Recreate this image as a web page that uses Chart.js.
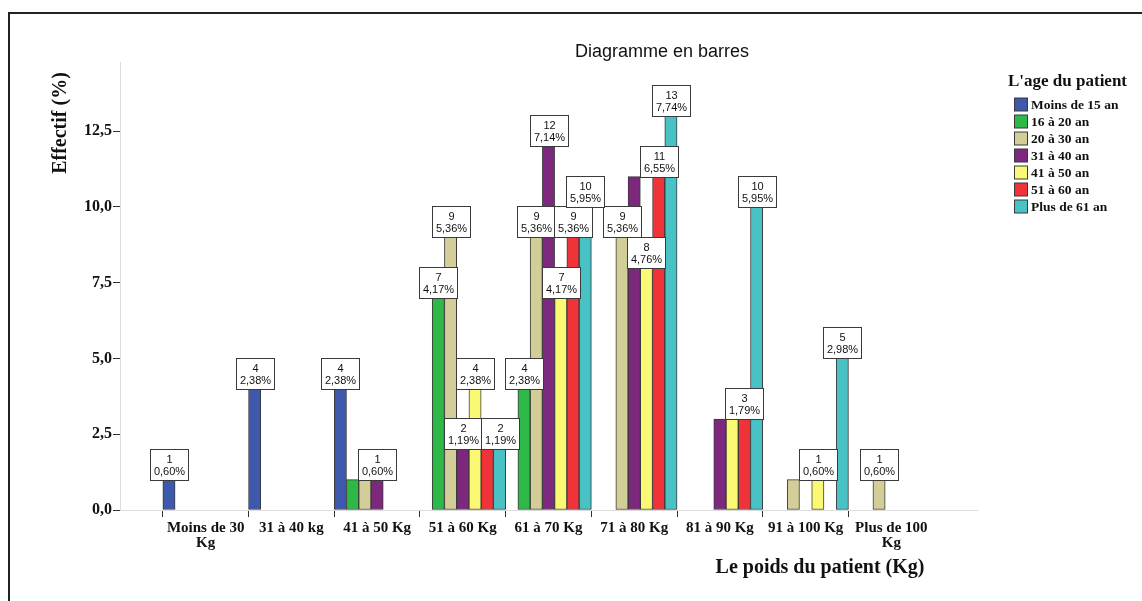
<!DOCTYPE html>
<html>
<head>
<meta charset="utf-8">
<script src="https://cdn.jsdelivr.net/npm/chart.js@4.4.1/dist/chart.umd.min.js"></script>
<style>
  body { margin: 0; background: #fff; }
  canvas { display: block; }
</style>
</head>
<body>
<canvas id="chart" width="1142" height="601"></canvas>
<script>
// categories (weight classes)
const weightLabels = [
  ["Moins de 30", "Kg"], "31 à 40 kg", "41 à 50 Kg", "51 à 60 Kg", "61 à 70 Kg",
  "71 à 80 Kg", "81 à 90 Kg", "91 à 100 Kg", ["Plus de 100", "Kg"]
];

// series (age classes)
const ageLabels = ["Moins de 15 an", "16 à 20 an", "20 à 30 an", "31 à 40 an", "41 à 50 an", "51 à 60 an", "Plus de 61 an"];
const ageColors = ["#3e58ac", "#2eb848", "#d3ce97", "#7c287d", "#fbf873", "#ef3338", "#48c2c5"];

// counts per weight class (null = no bar)
const moins15 = [1, 4, 4, null, null, null, null, null, null];
const de16a20 = [null, null, 1, 7, 4, null, null, null, null];
const de20a30 = [null, null, 1, 9, 9, 9, null, 1, 1];
const de31a40 = [null, null, 1, 2, 12, 11, 3, null, null];
const de41a50 = [null, null, null, 4, 7, 8, 3, 1, null];
const de51a60 = [null, null, null, 2, 9, 11, 3, null, null];
const plus61  = [null, null, null, 2, 10, 13, 10, 5, null];
const seriesValues = [moins15, de16a20, de20a30, de31a40, de41a50, de51a60, plus61];

const total = 168;
const yTicks = [0, 2.5, 5, 7.5, 10, 12.5];

// labels that the original hides because they overlap ("series-category")
const hiddenLabels = ["1-2", "2-2", "5-3", "3-5", "3-6", "4-6", "2-7"];

// pad one empty slot each side so the axis runs half a slot past the end groups
const labels = ["", ...weightLabels, ""];
const datasets = ageLabels.map((name, i) => ({
  label: name,
  data: [null, ...seriesValues[i], null],
  backgroundColor: ageColors[i],
  borderColor: "#3a3a3a",
  borderWidth: 1,
  borderSkipped: false,
  categoryPercentage: 1,
  barPercentage: 1
}));

const serif = "'Liberation Serif', 'Times New Roman', serif";
const sans = "'Liberation Sans', Arial, sans-serif";

const decorations = {
  id: "decorations",
  beforeDraw(chart) {
    const c = chart.ctx;
    c.save();
    c.fillStyle = "#fff";
    c.fillRect(0, 0, chart.width, chart.height);
    c.strokeStyle = "#222";
    c.lineWidth = 2;
    c.beginPath();
    c.moveTo(9, chart.height);
    c.lineTo(9, 13);
    c.lineTo(chart.width, 13);
    c.stroke();
    c.restore();
  },
  afterDraw(chart) {
    const c = chart.ctx;
    c.save();
    c.fillStyle = "#111";
    c.textAlign = "center";
    c.textBaseline = "middle";
    c.font = "18px " + sans;
    c.fillText("Diagramme en barres", 662, 52);

    c.font = "bold 20px " + serif;
    c.fillText("Le poids du patient (Kg)", 820, 568);
    c.save();
    c.translate(61, 123);
    c.rotate(-Math.PI / 2);
    c.fillText("Effectif (%)", 0, 0);
    c.restore();

    // legend
    c.textAlign = "left";
    c.font = "bold 17px " + serif;
    c.fillText("L'age du patient", 1008, 82);
    c.font = "bold 13.5px " + serif;
    ageLabels.forEach((name, i) => {
      const y = 104.5 + i * 17;
      c.fillStyle = ageColors[i];
      c.fillRect(1014.5, y - 6.5, 13, 13);
      c.strokeStyle = "#3a3a3a";
      c.lineWidth = 1;
      c.strokeRect(1014.5, y - 6.5, 13, 13);
      c.fillStyle = "#111";
      c.fillText(name, 1031, y + 1);
    });
    c.restore();
  },
  afterDatasetsDraw(chart) {
    const c = chart.ctx;
    c.save();
    c.textAlign = "center";
    c.textBaseline = "middle";
    c.font = "11px " + sans;
    chart.data.datasets.forEach((ds, i) => {
      const meta = chart.getDatasetMeta(i);
      ds.data.forEach((v, j) => {
        if (v === null) return;
        if (hiddenLabels.includes(i + "-" + (j - 1))) return;
        const bar = meta.data[j];
        const w = 38, h = 31;
        const x = Math.round(bar.x - w / 2) + 0.5;
        const y = Math.round(bar.y - h) + 0.5;
        c.fillStyle = "#fff";
        c.fillRect(x, y, w, h);
        c.strokeStyle = "#3a3a3a";
        c.lineWidth = 1;
        c.strokeRect(x, y, w, h);
        c.fillStyle = "#111";
        c.fillText(String(v), x + w / 2, y + 10);
        const pct = (v / total * 100).toFixed(2).replace(".", ",") + "%";
        c.fillText(pct, x + w / 2, y + 22);
      });
    });
    c.restore();
  }
};

new Chart(document.getElementById("chart"), {
  type: "bar",
  data: { labels, datasets },
  plugins: [decorations],
  options: {
    responsive: false,
    animation: false,
    devicePixelRatio: 1,
    layout: { padding: { left: 0, top: 62, right: 165, bottom: 0 } },
    plugins: {
      legend: { display: false },
      tooltip: { enabled: false }
    },
    scales: {
      x: {
        offset: false,
        afterFit: (s) => { s.height = 91; },
        border: { color: "#dcdcdc", width: 1 },
        grid: {
          drawOnChartArea: false,
          tickLength: 7,
          tickColor: (ctx) => (ctx.index === 0 || ctx.index === labels.length - 1) ? "rgba(0,0,0,0)" : "#333"
        },
        ticks: {
          autoSkip: false,
          maxRotation: 0,
          padding: 4,
          color: "#111",
          font: { family: serif, size: 15, weight: "bold", lineHeight: 1.0 }
        }
      },
      y: {
        min: 0,
        max: 14.78,
        afterFit: (s) => { s.width = 120; },
        afterBuildTicks: (s) => { s.ticks = yTicks.map(v => ({ value: v })); },
        border: { color: "#dcdcdc", width: 1 },
        grid: { drawOnChartArea: false, tickLength: 7, tickColor: "#333" },
        ticks: {
          padding: 1,
          color: "#111",
          font: { family: serif, size: 16, weight: "bold" },
          callback: (v) => v.toFixed(1).replace(".", ",")
        }
      }
    }
  }
});
</script>
</body>
</html>
